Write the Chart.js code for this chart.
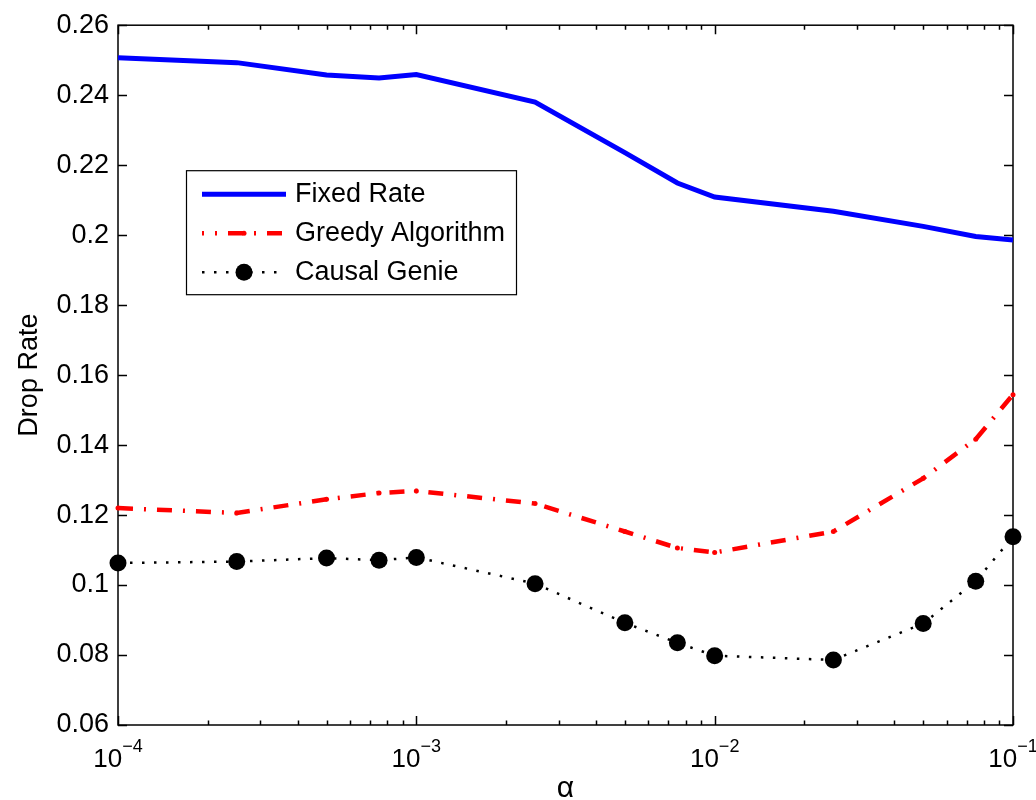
<!DOCTYPE html>
<html><head><meta charset="utf-8">
<script src="https://cdn.jsdelivr.net/npm/chart.js@4.4.0/dist/chart.umd.min.js"></script>
<style>html,body{margin:0;padding:0;background:#fff;}#wrap{width:1036px;height:800px;position:relative;}</style>
</head><body><div id="wrap"><canvas id="c" width="1036" height="800"></canvas></div>
<script>
// ---- data ----
const alphas = [1e-4, 2.5e-4, 5e-4, 7.5e-4, 1e-3, 2.5e-3, 5e-3, 7.5e-3, 1e-2, 2.5e-2, 5e-2, 7.5e-2, 1e-1];
const fixedRate = [0.2507, 0.2493, 0.2458, 0.2449, 0.2459, 0.2380, 0.2236, 0.2149, 0.2109, 0.2068, 0.2025, 0.1996, 0.1986];
const greedyAlgorithm = [0.1220, 0.1206, 0.1245, 0.1263, 0.1269, 0.1233, 0.1153, 0.1106, 0.1093, 0.1153, 0.1305, 0.1417, 0.1544];
const causalGenie = [0.1063, 0.1067, 0.1077, 0.1071, 0.1079, 0.1004, 0.0892, 0.0835, 0.0798, 0.0786, 0.0890, 0.1011, 0.1138];
const seriesNames = ['Fixed Rate', 'Greedy Algorithm', 'Causal Genie'];
const xTickValues = [1e-4, 1e-3, 1e-2, 1e-1];
const xTickBase = '10';
const xTickExponents = ['\u22124', '\u22123', '\u22122', '\u22121'];
const xMinorMultipliers = [2, 3, 4, 5, 6, 7, 8, 9];
const yMin = 0.06, yMax = 0.26, yStep = 0.02;
const xAxisTitle = '\u03B1';
const yAxisTitle = 'Drop Rate';

const FONT = "'Liberation Sans', Arial, Helvetica, sans-serif";
const pts = arr => alphas.map((a, i) => ({x: a, y: arr[i]}));

const styles = [
  {color: '#0000ff', width: 5, dash: [], pr: 0},
  {color: '#ff0000', width: 4.5, dash: [15, 11, 2, 11], pr: 2.5},
  {color: '#000000', width: 2.5, dash: [2.5, 9.5], pr: 8.5}
];
const seriesData = [fixedRate, greedyAlgorithm, causalGenie];

const decor = {
  id: 'decor',
  beforeDatasetsDraw(chart) {
    const {ctx, chartArea: a, scales: {x, y}} = chart;
    ctx.save();
    ctx.strokeStyle = '#000';
    ctx.lineWidth = 1.5;
    ctx.beginPath();
    for (let v = yMin; v <= yMax + 1e-9; v += yStep) {
      const py = Math.round(y.getPixelForValue(v)) + 0.5;
      ctx.moveTo(a.left, py); ctx.lineTo(a.left + 9, py);
      ctx.moveTo(a.right, py); ctx.lineTo(a.right - 9, py);
    }
    xTickValues.forEach(v => {
      const px = Math.round(x.getPixelForValue(v)) + 0.5;
      ctx.moveTo(px, a.bottom); ctx.lineTo(px, a.bottom - 9);
      ctx.moveTo(px, a.top); ctx.lineTo(px, a.top + 9);
    });
    xTickValues.slice(0, -1).forEach(d => {
      xMinorMultipliers.forEach(m => {
        const px = Math.round(x.getPixelForValue(m * d)) + 0.5;
        ctx.moveTo(px, a.bottom); ctx.lineTo(px, a.bottom - 4.5);
        ctx.moveTo(px, a.top); ctx.lineTo(px, a.top + 4.5);
      });
    });
    ctx.stroke();
    ctx.strokeRect(a.left, a.top, a.right - a.left, a.bottom - a.top);
    ctx.restore();
  },
  afterDatasetsDraw(chart) {
    const {ctx, chartArea: a} = chart;
    ctx.save();
    const L = a.left + 68, T = a.top + 145, W = 330, H = 124;
    ctx.fillStyle = '#fff';
    ctx.fillRect(L, T, W, H);
    ctx.strokeStyle = '#000';
    ctx.lineWidth = 1.2;
    ctx.strokeRect(L + 0.5, T + 0.5, W, H);
    seriesNames.forEach((name, i) => {
      const s = styles[i];
      const cy = T + 24 + i * 39;
      const x0 = L + 16, x1 = L + 100;
      ctx.strokeStyle = s.color;
      ctx.lineWidth = s.width;
      ctx.setLineDash(s.dash);
      ctx.lineDashOffset = i === 1 ? 13 : 0;
      ctx.beginPath(); ctx.moveTo(x0, cy); ctx.lineTo(x1, cy); ctx.stroke();
      ctx.setLineDash([]);
      if (s.pr > 0) {
        ctx.fillStyle = s.color;
        ctx.beginPath(); ctx.arc((x0 + x1) / 2, cy, s.pr, 0, Math.PI * 2); ctx.fill();
      }
      ctx.fillStyle = '#000';
      ctx.font = '27px ' + FONT;
      ctx.textAlign = 'left';
      ctx.textBaseline = 'middle';
      ctx.fillText(name, L + 109, cy);
    });
    ctx.restore();
  },
  afterDraw(chart) {
    const {ctx, chartArea: a, scales: {x}} = chart;
    ctx.save();
    ctx.fillStyle = '#000';
    ctx.textBaseline = 'alphabetic';
    ctx.textAlign = 'left';
    xTickValues.forEach((v, i) => {
      const px = x.getPixelForValue(v);
      ctx.font = '26px ' + FONT;
      const wb = ctx.measureText(xTickBase).width;
      ctx.font = '18px ' + FONT;
      const we = ctx.measureText(xTickExponents[i]).width;
      const start = px - (wb + we) / 2;
      ctx.font = '26px ' + FONT;
      ctx.fillText(xTickBase, start, a.bottom + 42);
      ctx.font = '18px ' + FONT;
      ctx.fillText(xTickExponents[i], start + wb, a.bottom + 27);
    });
    ctx.restore();
  }
};

new Chart(document.getElementById('c'), {
  type: 'line',
  data: {
    datasets: seriesNames.map((name, i) => ({
      label: name,
      data: pts(seriesData[i]),
      borderColor: styles[i].color,
      backgroundColor: styles[i].color,
      borderWidth: styles[i].width,
      borderDash: styles[i].dash,
      pointRadius: styles[i].pr,
      pointBorderWidth: 0,
      pointBackgroundColor: styles[i].color,
      pointHoverRadius: styles[i].pr,
      tension: 0,
      fill: false,
      clip: false
    }))
  },
  options: {
    responsive: false,
    animation: false,
    devicePixelRatio: 1,
    layout: {padding: {left: 0, right: 23, top: 19, bottom: 0}},
    plugins: {legend: {display: false}, tooltip: {enabled: false}},
    scales: {
      x: {
        type: 'logarithmic', min: 1e-4, max: 1e-1, position: 'bottom',
        grid: {display: false, drawTicks: false},
        border: {display: false},
        ticks: {display: false},
        title: {display: true, text: xAxisTitle, color: '#000',
          font: {family: FONT, size: 30, lineHeight: 0.73}, padding: {top: 0, bottom: 0}},
        afterFit(s) { s.height = 75; }
      },
      y: {
        type: 'linear', min: yMin, max: yMax,
        grid: {display: false, drawTicks: false},
        border: {display: false},
        ticks: {stepSize: yStep, color: '#000', padding: 9,
          font: {family: FONT, size: 27},
          callback: v => String(parseFloat(Number(v).toFixed(2)))},
        title: {display: true, text: yAxisTitle, color: '#000',
          font: {family: FONT, size: 27, lineHeight: 1.2}, padding: {top: 13, bottom: 0}},
        afterFit(s) { s.width = 118; }
      }
    }
  },
  plugins: [decor]
});
</script></body></html>
